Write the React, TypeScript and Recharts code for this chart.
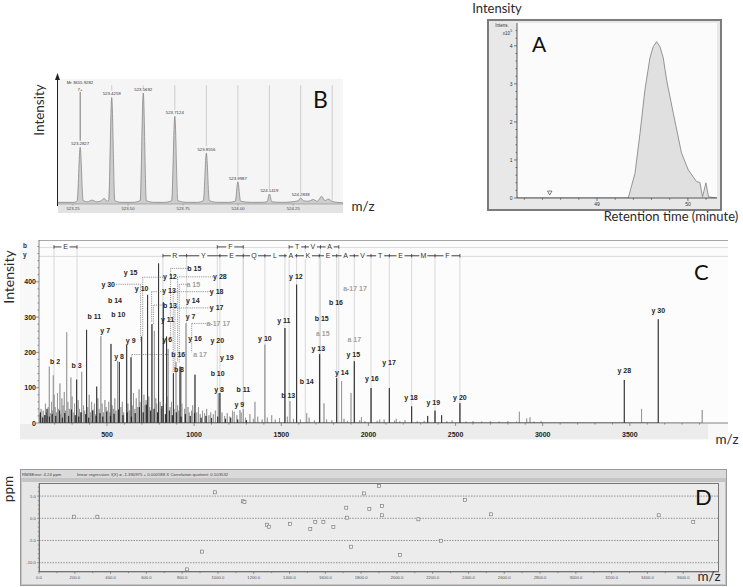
import React from 'react';
import { ComposedChart, Area, Line, Scatter, XAxis, YAxis, ReferenceLine } from 'recharts';

const UI = 'Lato, "Open Sans", sans-serif';
const SM = '"Liberation Sans", Arial, sans-serif';

/* ---------- A: extracted ion chromatogram ---------- */
const A_TIME = [48.12, 49.344, 49.418, 49.473, 49.527, 49.582, 49.619, 49.656, 49.692, 49.729, 49.766, 49.839, 49.93, 50.004, 50.06, 50.095, 50.132, 50.161, 50.198, 50.227, 50.32];
const A_INTENS = [0, 0, 0.65, 1.7, 2.84, 3.68, 3.98, 4.11, 3.98, 3.68, 3.1, 2.23, 1.18, 0.74, 0.55, 0.43, 0.41, 0.03, 0.4, 0.03, 0];
const A_MARKER: [number, number][] = [[48.48, 0.13]];
const A_XTICKS = [48.2, 48.4, 48.6, 48.8, 49, 49.2, 49.4, 49.6, 49.8, 50, 50.2];
const A_YTICKS = Array.from({ length: 23 }, (_, i) => i / 5);

/* ---------- B: isotope envelope ---------- */
const B_PROFILE: [number, number][] = [
  [523.182, 1.5], [523.255, 1.5], [523.269, 3], [523.2827, 51], [523.296, 3], [523.316, 2], [523.338, 3.5],
  [523.356, 2], [523.374, 2.5], [523.392, 5], [523.404, 2.5], [523.412, 3], [523.4259, 96], [523.44, 3],
  [523.47, 1.5], [523.52, 1.5], [523.555, 3], [523.5692, 100], [523.583, 3], [523.62, 1.5], [523.665, 1.5],
  [523.698, 3], [523.7124, 79], [523.726, 3], [523.77, 1.5], [523.815, 1.5], [523.842, 3], [523.8556, 46],
  [523.869, 3], [523.91, 1.5], [523.955, 1.5], [523.987, 2.5], [523.9987, 20], [524.011, 2.5], [524.06, 1.5],
  [524.105, 1.5], [524.131, 2], [524.1419, 9], [524.153, 2], [524.2, 1.5], [524.245, 2], [524.273, 3],
  [524.2838, 5.5], [524.296, 3], [524.318, 2.5], [524.341, 4], [524.36, 2.5], [524.379, 7], [524.394, 3],
  [524.409, 4.5], [524.425, 2.5], [524.45, 1.5], [524.476, 1],
];
const B_PEAK_MZ = [523.2827, 523.4259, 523.5692, 523.7124, 523.8556, 523.9987, 524.1419, 524.2838];
const B_PEAK_INT = [51, 96, 100, 79, 46, 20, 9, 5.5];
const B_MARK_MZ = [523.4259, 523.5692, 523.7124, 523.8556, 523.9987, 524.1419, 524.2838, 524.427];
const B_MARK_LOW = [102, 104, 85, 52, 25, 14, 10, 3];
const B_TICKS = [523.25, 523.5, 523.75, 524.0, 524.25];

/* ---------- C: MS/MS spectrum ---------- */
const C_NOISE: [number, number][] = [
  [115, 25], [122, 40], [128, 18], [134, 35], [141, 22], [147, 55], [152, 30], [158, 20], [163, 45], [175, 28],
  [182, 60], [188, 35], [197, 80], [203, 45], [210, 30], [216, 85], [222, 40], [235, 25], [241, 70], [248, 50],
  [255, 88], [262, 35], [276, 60], [284, 40], [300, 75], [306, 30], [314, 55], [335, 65], [342, 40], [348, 30],
  [365, 50], [372, 35], [390, 45], [398, 80], [405, 30], [412, 60], [420, 38], [428, 55], [435, 25], [448, 70],
  [455, 40], [472, 55], [480, 30], [488, 65], [495, 45], [502, 35], [510, 60], [517, 30], [530, 50], [537, 40],
  [545, 70], [552, 35], [580, 45], [588, 60], [596, 30], [620, 55], [628, 35], [645, 50], [652, 85], [660, 40],
  [668, 70], [676, 45], [684, 95], [690, 60], [712, 80], [718, 50], [724, 65], [740, 75], [745, 45], [780, 70],
  [785, 55], [805, 60], [812, 40], [840, 55], [845, 75], [862, 45], [870, 60], [885, 40], [905, 50], [912, 35],
  [930, 55], [945, 40], [965, 45], [972, 30], [985, 35], [992, 50], [1015, 30], [1025, 45], [1035, 25], [1048, 35],
  [1060, 28], [1072, 40], [1085, 22], [1095, 30], [1110, 25], [1122, 35], [1160, 30], [1175, 20], [1190, 28],
  [1205, 18], [1220, 35], [1245, 22], [1270, 30], [1295, 15], [1320, 25], [1340, 12], [1365, 18], [1390, 10],
  [1420, 15], [1445, 22], [1465, 10], [1490, 14], [1535, 18], [1570, 12], [1610, 10], [1660, 15], [1690, 8],
  [1760, 10], [1790, 8], [1860, 12], [1880, 6], [1950, 8], [1980, 5], [2050, 6], [2090, 10], [2150, 7], [2180, 5],
  [2210, 8], [2280, 5], [2320, 6], [2450, 5], [2480, 7], [2560, 4], [2600, 5], [2650, 4], [2700, 5], [2750, 4],
  [2800, 5], [2850, 4], [2950, 4], [2990, 5],
];
const C_GRAY_PEAKS: [number, number][] = [
  [169, 160], [192, 135], [230, 112], [269, 257], [293, 129], [355, 145], [465, 246], [561, 176], [772, 261],
  [851, 210], [896, 173], [925, 159], [953, 283], [1139, 84], [1230, 32], [1263, 37], [1282, 39], [1349, 60],
  [1406, 222], [1550, 62], [1646, 28], [1745, 56], [1846, 119], [1900, 85], [1960, 17], [2065, 10], [2160, 12],
  [2866, 32], [2908, 13], [2927, 16], [3567, 40], [3915, 37],
];
const C_DARK_NOISE: [number, number][] = [
  [118, 30], [131, 15], [144, 22], [156, 40], [170, 18], [186, 25], [206, 20], [228, 35], [244, 15], [258, 28],
  [280, 20], [296, 38], [318, 22], [338, 18], [352, 30], [378, 25], [395, 15], [418, 35], [438, 20], [460, 28],
  [476, 18], [498, 32], [520, 20], [541, 26], [566, 38], [592, 22], [616, 30], [640, 18], [662, 28], [686, 45],
  [708, 30], [726, 52], [750, 35], [770, 40], [790, 30], [815, 48], [835, 25], [858, 35], [875, 22], [898, 30],
  [925, 18], [950, 25], [978, 20], [1002, 28], [1040, 15], [1068, 20], [1100, 14], [1135, 18], [1180, 12],
  [1210, 15], [1250, 10], [1300, 8],
];
const C_DARK_PEAKS: [number, number][] = [
  [326, 123], [383, 264], [441, 103], [523, 224], [571, 173], [613, 221], [638, 186], [699, 245], [733, 363],
  [758, 280], [796, 452], [823, 342], [842, 245], [881, 141], [919, 160], [1005, 137], [1148, 85], [1521, 269],
  [1588, 392], [1720, 195], [1818, 127], [1919, 175], [2015, 99], [2120, 99], [2248, 47], [2340, 20], [2382, 35],
  [2420, 22], [2525, 56], [3468, 122], [3663, 294],
];
// sequence ladder: b-ion and y-ion breakpoints (m/z) and residues
const C_B_GROUPS = [[196, 328], [1133, 1282], [1545, 1638, 1725, 1830]];
const C_B_RESIDUES = [['E'], ['F'], ['T', 'V', 'A']];
const C_Y_TICKS = [821, 957, 1148, 1282, 1406, 1521, 1588, 1718, 1818, 1919, 2015, 2120, 2248, 2382, 2525];
const C_Y_RESIDUES = ['R', 'Y', 'E', 'Q', 'L', 'A', 'K', 'E', 'A', 'V', 'T', 'E', 'M', 'F'];
const C_B_ROW = 499;
const C_Y_ROW = 474;
// fragment annotations: text, m/z, intensity, gray
const C_LABELS: [string, number, number, boolean][] = [
  ['b 2', 202, 174, false], ['b 3', 326, 162, false], ['b 11', 427, 303, false], ['b 14', 546, 346, false],
  ['b 10', 565, 306, false], ['y 15', 636, 426, false], ['y 30', 507, 393, false], ['y 7', 490, 261, false],
  ['y 9', 636, 235, false], ['y 8', 569, 189, false], ['y 10', 699, 381, false], ['y 12', 861, 416, false],
  ['b 15', 1001, 438, false], ['y 28', 1148, 414, false], ['a 15', 995, 393, true], ['y 13', 856, 374, false],
  ['y 18', 1129, 372, false], ['b 13', 861, 334, false], ['y 14', 992, 346, false], ['y 17', 1129, 326, false],
  ['y 7', 980, 303, false], ['a-17 17', 1139, 282, true], ['y 11', 848, 292, false], ['y 6', 846, 237, false],
  ['y 16', 1005, 240, false], ['y 20', 1133, 235, false], ['b 16', 909, 195, false], ['a 17', 1034, 193, true],
  ['b 8', 913, 152, false], ['y 19', 1187, 185, false], ['b 10', 1135, 140, false], ['y 8', 1143, 96, false],
  ['b 11', 1282, 96, false], ['y 9', 1259, 53, false], ['y 10', 1406, 238, false], ['y 11', 1515, 290, false],
  ['y 12', 1584, 416, false], ['b 13', 1540, 77, false], ['b 14', 1646, 117, false], ['b 16', 1814, 341, false],
  ['b 15', 1732, 297, false], ['a 15', 1738, 254, true], ['y 13', 1712, 212, false], ['a-17 17', 1923, 382, true],
  ['a 17', 1919, 237, true], ['y 15', 1913, 193, false], ['y 14', 1847, 143, false], ['y 16', 2019, 127, false],
  ['y 17', 2118, 170, false], ['y 18', 2244, 71, false], ['y 19', 2372, 59, false], ['y 20', 2525, 73, false],
  ['y 28', 3468, 148, false], ['y 30', 3663, 320, false],
];
// dotted leaders: from m/z, at intensity, to m/z, down to intensity
const C_LEADERS: [number, number, number, number][] = [
  [552, 393, 693, 230], [822, 413, 705, 245], [966, 438, 865, 240], [1110, 414, 905, 175], [968, 393, 915, 170],
  [824, 372, 756, 286], [1094, 372, 880, 141], [826, 334, 766, 280], [1094, 326, 890, 160], [1095, 282, 986, 200],
  [852, 194, 642, 186],
];
const C_XTICKS = Array.from({ length: 38 }, (_, i) => 200 + i * 100);
const C_YTICKS = Array.from({ length: 26 }, (_, i) => i * 20);

/* ---------- D: mass error ---------- */
const D_MZ = [196, 326, 826, 911, 984, 1139, 1148, 1273, 1284, 1403, 1516, 1544, 1589, 1645, 1717, 1720, 1744, 1816,
  1846, 1899, 1917, 1917, 2017, 2120, 2246, 2380, 2526, 3463, 3656];
const D_PPM = [0.36, 0.36, -11.5, -7.5, 5.86, 3.83, 3.67, -1.44, -1.89, -1.28, -2.41, -0.83, -0.83, -1.96, 2.39, 0.14,
  -6.4, 5.6, 2.1, 7.3, 2.77, 0.68, -8.3, -0.23, -5.05, 4.12, 0.9, 0.68, -0.83];
const D_GRID = [5, 0, -5, -10];
const D_XTICKS = Array.from({ length: 38 }, (_, i) => i * 100);
const D_YTICKS = Array.from({ length: 20 }, (_, i) => i - 12);

const sticks = (peaks: [number, number][]) =>
  [...peaks].sort((a, b) => a[0] - b[0]).flatMap(([mz, v]) => [{ mz, v: 0 }, { mz, v }, { mz, v: 0 }]);

const box = (l: number, t: number, w: number, h: number, extra: React.CSSProperties = {}): React.CSSProperties => ({
  position: 'absolute', left: l, top: t, width: w, height: h, boxSizing: 'border-box', ...extra,
});

/* ---------- ticks ---------- */
const ATickX = (p: any) => {
  const v = p.payload.value;
  const major = Math.abs(v - Math.round(v)) < 1e-6;
  return (
    <g>
      <line x1={p.x} x2={p.x} y1={p.y} y2={p.y + (major ? 3 : 1.8)} stroke="#333" strokeWidth={0.6} />
      {major && <text x={p.x} y={p.y + 8} textAnchor="middle" fontSize={5} fontFamily={SM} fill="#333">{v}</text>}
    </g>
  );
};
const ATickY = (p: any) => {
  const v = p.payload.value;
  const major = Math.abs(v - Math.round(v)) < 1e-6;
  return (
    <g>
      <line x1={p.x} x2={p.x - (major ? 3 : 1.5)} y1={p.y} y2={p.y} stroke="#333" strokeWidth={0.6} />
      {major && <text x={p.x - 4.5} y={p.y + 1.8} textAnchor="end" fontSize={5} fontFamily={SM} fill="#333">{Math.round(v)}</text>}
    </g>
  );
};
const BTick = (p: any) => (
  <g>
    <line x1={p.x} x2={p.x} y1={p.y} y2={p.y + 1.5} stroke="#777" strokeWidth={0.5} />
    <text x={p.x} y={p.y + 6.3} textAnchor="middle" fontSize={4.3} fontFamily={SM} fill="#444">{p.payload.value.toFixed(2)}</text>
  </g>
);
const CTickX = (p: any) => {
  const v = p.payload.value;
  const major = v % 500 === 0;
  return (
    <g>
      <line x1={p.x} x2={p.x} y1={p.y} y2={p.y + (major ? 3 : 1.6)} stroke="#555" strokeWidth={0.6} />
      {major && <text x={p.x} y={p.y + 13.5} textAnchor="middle" fontSize={7} fontWeight="bold" fontFamily={SM} fill="#222">{v}</text>}
    </g>
  );
};
const CTickY = (p: any) => {
  const v = p.payload.value;
  const major = v % 100 === 0 && v <= 400;
  return (
    <g>
      <line x1={p.x} x2={p.x - (major ? 3 : 1.5)} y1={p.y} y2={p.y} stroke="#555" strokeWidth={0.6} />
      {major && <text x={p.x - 3} y={p.y + 2.5} textAnchor="end" fontSize={7} fontWeight="bold" fontFamily={SM} fill="#222">{v}</text>}
    </g>
  );
};
const DTickX = (p: any) => {
  const v = p.payload.value;
  const major = v % 200 === 0;
  return (
    <g>
      <line x1={p.x} x2={p.x} y1={p.y} y2={p.y + (major ? 2 : 1.2)} stroke="#555" strokeWidth={0.5} />
      {major && v < 3800 && <text x={p.x} y={p.y + 6.5} textAnchor="middle" fontSize={4.2} fontFamily={SM} fill="#555">{v.toFixed(1)}</text>}
    </g>
  );
};
const DTickY = (p: any) => {
  const v = p.payload.value;
  const major = v % 5 === 0;
  return (
    <g>
      <line x1={p.x} x2={p.x - (major ? 2 : 1.2)} y1={p.y} y2={p.y} stroke="#555" strokeWidth={0.5} />
      {major && <text x={p.x - 3} y={p.y + 1.5} textAnchor="end" fontSize={4.3} fontFamily={SM} fill="#555">{v.toFixed(1)}</text>}
    </g>
  );
};

/* ---------- shapes ---------- */
const BPeakLabel = (p: any) => (
  <text x={p.cx} y={p.cy - 2} textAnchor="middle" fontSize={4.3} fontFamily={SM} fill="#333">{p.payload.t}</text>
);
const AMarker = (p: any) => (
  <path d={`M${p.cx - 2.2},${p.cy - 2} L${p.cx + 2.2},${p.cy - 2} L${p.cx},${p.cy + 2} Z`} fill="none" stroke="#333" strokeWidth={0.6} />
);
const CLabel = (p: any) => (
  <text x={p.cx} y={p.cy + 2.5} textAnchor="middle" fontSize={7} fontWeight="bold" fontFamily={SM}
    fill={p.payload.gray ? '#a0a0a0' : '#262626'}>{p.payload.t}</text>
);
const CResidue = (p: any) => (
  <g>
    <rect x={p.cx - 4} y={p.cy - 3.5} width={8} height={7} fill="#fcfcfc" />
    <text x={p.cx} y={p.cy + 2.5} textAnchor="middle" fontSize={7} fontFamily={SM} fill="#333">{p.payload.t}</text>
  </g>
);
const DSquare = (p: any) => (
  <rect x={p.cx - 1.5} y={p.cy - 1.5} width={3} height={3} fill="#f2f2f2" stroke="#6e6e6e" strokeWidth={0.6} />
);

export default function App() {
  const aData = A_TIME.map((t, i) => ({ mz: t, v: A_INTENS[i] }));
  const aMarker = A_MARKER.map(([t, v]) => ({ mz: t, v }));
  const bData = B_PROFILE.map(([mz, v]) => ({ mz, v }));
  const bPeaks = B_PEAK_MZ.map((mz, i) => ({ mz, v: B_PEAK_INT[i], t: mz.toFixed(4) }));
  const cGray = sticks([...C_NOISE, ...C_GRAY_PEAKS]);
  const cDark = sticks([...C_DARK_NOISE, ...C_DARK_PEAKS]);
  const cLabels = C_LABELS.map(([t, mz, v, gray]) => ({ t, mz, v, gray }));
  const cBRes = C_B_GROUPS.flatMap((g, gi) => C_B_RESIDUES[gi].map((t, i) => ({ t, mz: (g[i] + g[i + 1]) / 2, v: C_B_ROW })));
  const cYRes = C_Y_RESIDUES.map((t, i) => ({ t, mz: (C_Y_TICKS[i] + C_Y_TICKS[i + 1]) / 2, v: C_Y_ROW }));
  const dData = D_MZ.map((mz, i) => ({ mz, v: D_PPM[i] }));
  const cBTicks = C_B_GROUPS.flat();

  const dash = { stroke: '#555', strokeWidth: 0.6, strokeDasharray: '1.2 1' };

  return (
    <div style={{ position: 'absolute', left: 0, top: 0, width: 743, height: 587, background: '#fff', overflow: 'hidden' }}>
      {/* panel backgrounds */}
      <div style={box(58, 79, 285, 125, { background: '#f5f5f5' })} />
      <div style={box(58, 204, 285, 9, { background: '#e3e3e3' })} />
      <div style={box(487, 19, 235, 192, { background: '#e8e8e8', border: '2.5px solid #7c7c7c' })} />
      <div style={box(517, 23, 200, 175, { background: '#fbfbfb' })} />
      <div style={box(20, 240, 708, 200, { background: '#f8f8f8' })} />
      <div style={box(39, 240, 689, 183, { background: '#fcfcfc', borderTop: '1px solid #a8a8a8' })} />
      <div style={box(20, 424, 688, 15, { background: '#ececec' })} />
      <div style={box(20, 469, 707, 117, { background: '#c4c4c4', border: '1px solid #9a9a9a' })} />
      <div style={box(21, 470, 705, 7.5, { background: '#dadada' })} />
      <div style={box(22, 482, 703, 102, { background: '#e6e6e6' })} />
      <div style={box(39, 483, 680, 89, { background: '#ececec', border: '0.8px solid #777' })} />

      {/* B */}
      <div style={{ position: 'absolute', left: 30, top: 70 }}>
        <ComposedChart width={323} height={160} data={bData} margin={{ top: 9, right: 10, bottom: 17, left: 28 }}>
          <XAxis dataKey="mz" type="number" domain={[523.182, 524.476]} ticks={B_TICKS} interval={0} tick={BTick}
            tickSize={0} tickMargin={0} tickLine={false} height={9} axisLine={{ stroke: '#8a8a8a', strokeWidth: 0.6 }} allowDataOverflow />
          <YAxis dataKey="v" type="number" domain={[0, 112.6]} hide allowDataOverflow />
          <ReferenceLine segment={[{ x: 523.2827, y: 101 }, { x: 523.2827, y: 57 }]} stroke="#5a5a5a" strokeWidth={0.8} />
          {B_MARK_MZ.map((mz, i) => (
            <ReferenceLine key={mz} segment={[{ x: mz, y: 107 }, { x: mz, y: B_MARK_LOW[i] }]} stroke="#c4c4c4" strokeWidth={0.8} />
          ))}
          <Area dataKey="v" type="monotone" baseValue={0} fill="#cdcdcd" fillOpacity={1} stroke="#7c7c7c" strokeWidth={0.7}
            dot={false} activeDot={false} isAnimationActive={false} />
          <Scatter data={bPeaks} dataKey="v" shape={BPeakLabel} isAnimationActive={false} />
        </ComposedChart>
      </div>

      {/* A */}
      <div style={{ position: 'absolute', left: 495, top: 20 }}>
        <ComposedChart width={226} height={192} data={aData} margin={{ top: 3, right: 4, bottom: 2, left: 0 }}>
          <XAxis dataKey="mz" type="number" domain={[48.12, 50.32]} ticks={A_XTICKS} interval={0} tick={ATickX}
            tickSize={0} tickMargin={0} tickLine={false} height={12} axisLine={{ stroke: '#333', strokeWidth: 0.8 }} allowDataOverflow />
          <YAxis dataKey="v" type="number" domain={[0, 4.6]} ticks={A_YTICKS} interval={0} tick={ATickY} width={22}
            tickSize={0} tickMargin={0} tickLine={false} axisLine={{ stroke: '#333', strokeWidth: 0.8 }} allowDataOverflow />
          <Area dataKey="v" type="linear" baseValue={0} fill="#e0e0e0" fillOpacity={1} stroke="#8a8a8a" strokeWidth={0.9}
            dot={false} activeDot={false} isAnimationActive={false} />
          <Scatter data={aMarker} dataKey="v" shape={AMarker} isAnimationActive={false} />
        </ComposedChart>
      </div>

      {/* C */}
      <div style={{ position: 'absolute', left: 20, top: 240 }}>
        <ComposedChart width={708} height={200} data={cGray} margin={{ top: 0, right: 0, bottom: 0, left: 0 }}>
          <XAxis dataKey="mz" type="number" domain={[110, 4063]} ticks={C_XTICKS} interval={0} tick={CTickX}
            tickSize={0} tickMargin={0} tickLine={false} height={17} axisLine={{ stroke: '#666', strokeWidth: 0.8 }} allowDataOverflow />
          <YAxis dataKey="v" type="number" domain={[0, 518.4]} ticks={C_YTICKS} interval={0} tick={CTickY} width={19}
            tickSize={0} tickMargin={0} tickLine={false} axisLine={{ stroke: '#666', strokeWidth: 0.8 }} allowDataOverflow />
          <ReferenceLine y={C_B_ROW - 2} stroke="#d2d2d2" strokeWidth={0.8} />
          <ReferenceLine y={C_Y_ROW - 2} stroke="#d2d2d2" strokeWidth={0.8} />
          {cBTicks.map((mz) => (
            <ReferenceLine key={'bv' + mz} segment={[{ x: mz, y: 0 }, { x: mz, y: C_B_ROW }]} stroke="#cfcfcf" strokeWidth={0.8} />
          ))}
          {C_Y_TICKS.map((mz) => (
            <ReferenceLine key={'yv' + mz} segment={[{ x: mz, y: 0 }, { x: mz, y: C_Y_ROW }]} stroke="#cfcfcf" strokeWidth={0.8} />
          ))}
          <Line dataKey="v" type="linear" stroke="#8e8e8e" strokeWidth={0.7} dot={false} activeDot={false} isAnimationActive={false} />
          <Line data={cDark} dataKey="v" type="linear" stroke="#1e1e1e" strokeWidth={0.7} dot={false} activeDot={false} isAnimationActive={false} />
          {C_LEADERS.map(([a, y, b], i) => (
            <ReferenceLine key={'lh' + i} segment={[{ x: a, y }, { x: b, y }]} {...dash} />
          ))}
          {C_LEADERS.map(([, y, b, low], i) => (
            <ReferenceLine key={'lv' + i} segment={[{ x: b, y }, { x: b, y: low }]} {...dash} />
          ))}
          {C_B_GROUPS.map((g, i) => (
            <ReferenceLine key={'bs' + i} segment={[{ x: g[0], y: C_B_ROW }, { x: g[g.length - 1], y: C_B_ROW }]} stroke="#333" strokeWidth={0.8} />
          ))}
          <ReferenceLine segment={[{ x: C_Y_TICKS[0], y: C_Y_ROW }, { x: C_Y_TICKS[C_Y_TICKS.length - 1], y: C_Y_ROW }]} stroke="#333" strokeWidth={0.8} />
          {cBTicks.map((mz) => (
            <ReferenceLine key={'bt' + mz} segment={[{ x: mz, y: C_B_ROW - 5 }, { x: mz, y: C_B_ROW + 5 }]} stroke="#333" strokeWidth={0.8} />
          ))}
          {C_Y_TICKS.map((mz) => (
            <ReferenceLine key={'yt' + mz} segment={[{ x: mz, y: C_Y_ROW - 5 }, { x: mz, y: C_Y_ROW + 5 }]} stroke="#333" strokeWidth={0.8} />
          ))}
          <Scatter data={[...cBRes, ...cYRes]} dataKey="v" shape={CResidue} isAnimationActive={false} />
          <Scatter data={cLabels} dataKey="v" shape={CLabel} isAnimationActive={false} />
        </ComposedChart>
      </div>

      {/* D */}
      <div style={{ position: 'absolute', left: 20, top: 483 }}>
        <ComposedChart width={699} height={100} data={dData} margin={{ top: 0, right: 0, bottom: 0, left: 0 }}>
          <XAxis dataKey="mz" type="number" domain={[0, 3800]} ticks={D_XTICKS} interval={0} tick={DTickX}
            tickSize={0} tickMargin={0} tickLine={false} height={11} axisLine={{ stroke: '#666', strokeWidth: 0.6 }} allowDataOverflow />
          <YAxis dataKey="v" type="number" domain={[-12.09, 7.95]} ticks={D_YTICKS} interval={0} tick={DTickY} width={19}
            tickSize={0} tickMargin={0} tickLine={false} axisLine={{ stroke: '#666', strokeWidth: 0.6 }} allowDataOverflow />
          {D_GRID.map((g) => (
            <ReferenceLine key={g} y={g} stroke="#555" strokeWidth={0.6} strokeDasharray="1.5 1.2" />
          ))}
          <Scatter dataKey="v" shape={DSquare} isAnimationActive={false} />
        </ComposedChart>
      </div>

      {/* titles and panel letters */}
      <svg width={743} height={587} style={{ position: 'absolute', left: 0, top: 0, pointerEvents: 'none' }}>
        <g fontFamily={UI} fill="#2a2a2a">
          <text transform="translate(44,110) rotate(-90)" textAnchor="middle" fontSize={13.5}>Intensity</text>
          <text x={363} y={211} textAnchor="middle" fontSize={13.5}>m/z</text>
          <text x={313} y={108} fontSize={23} fill="#111">B</text>
          <text x={497} y={13} textAnchor="middle" fontSize={13}>Intensity</text>
          <text x={671} y={221} textAnchor="middle" fontSize={13}>Retention time (minute)</text>
          <text x={532} y={52} fontSize={21} fill="#111">A</text>
          <text transform="translate(14,277) rotate(-90)" textAnchor="middle" fontSize={14}>Intensity</text>
          <text x={727} y={444} textAnchor="middle" fontSize={13.5}>m/z</text>
          <text x={694} y={280} fontSize={22} fill="#111">C</text>
          <text transform="translate(13,489) rotate(-90)" textAnchor="middle" fontSize={13.5}>ppm</text>
          <text x={709} y={581} textAnchor="middle" fontSize={13.5}>m/z</text>
          <text x={695} y={505} fontSize={22} fill="#111">D</text>
        </g>
        <g fontFamily={SM} fill="#333">
          <text x={80} y={83.5} textAnchor="middle" fontSize={4.3}>Mr 3655.9282</text>
          <text x={80} y={90.5} textAnchor="middle" fontSize={4.3}>7+</text>
          <text x={502} y={27} textAnchor="middle" fontSize={4.5}>Intens.</text>
          <text x={510} y={34.5} textAnchor="end" fontSize={4.5}>x10</text>
          <text x={510.3} y={32} fontSize={3.6}>5</text>
          <text x={23} y={248} fontSize={6.5} fontWeight="bold">b</text>
          <text x={23} y={257} fontSize={6.5} fontWeight="bold">y</text>
          <text x={22} y={475.5} fontSize={4.3} fill="#444">RMSError: 4.24 ppm</text>
          <text x={77} y={475.5} fontSize={4.3} fill="#444">linear regression: f(X) = -1.390975 + 0.000588 X  Correlation quotient: 0.103532</text>
        </g>
        <line x1={57.5} y1={206} x2={57.5} y2={78} stroke="#222" strokeWidth={1} />
        <path d="M57.5,73 L55,80 L60,80 Z" fill="#222" />
      </svg>
    </div>
  );
}
